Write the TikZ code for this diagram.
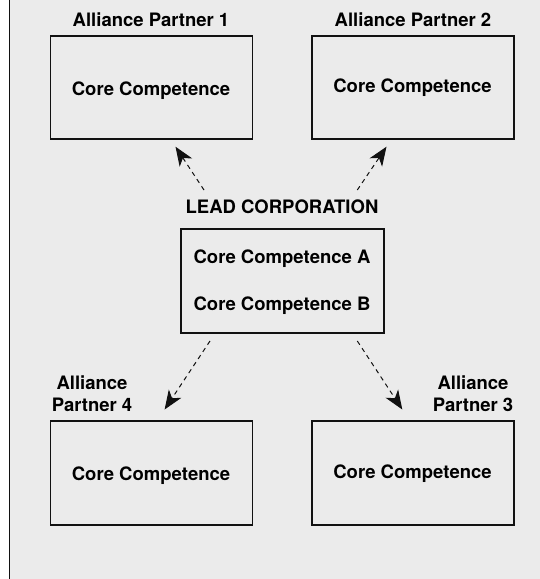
\documentclass[tikz,border=0pt]{standalone}
\usepackage{fontspec}
\setmainfont{TeX Gyre Heros}
\usetikzlibrary{arrows.meta}
\definecolor{bg}{HTML}{EBEBEB}
\definecolor{ink}{HTML}{111111}
\begin{document}
\begin{tikzpicture}[x=1pt,y=-1pt,
  box/.style={draw=ink, line width=1.4pt, minimum width=202pt, minimum height=103pt, inner sep=0pt},
  txt/.style={font=\fontsize{18.5}{22.4}\selectfont\bfseries, text=black, inner sep=0pt, anchor=base},
  conn/.style={draw=ink, line width=1pt, dash pattern=on 4.5pt off 4pt, -{Stealth[length=19pt,width=15pt,inset=5.5pt]}}]
\useasboundingbox (0,0) rectangle (540,579);
\fill[white] (0,0) rectangle (540,579);
\fill[bg] (10,0) rectangle (540,579);
\draw[ink, line width=1.3pt] (9.7,0) -- (9.7,579);
% boxes
\node[box] (b1) at (151.5,87.5) {};
\node[box] (b2) at (413,87.5) {};
\node[box, minimum height=104pt, minimum width=203pt] (lead) at (282.5,281) {};
\node[box, minimum height=104pt] (b4) at (151.5,473) {};
\node[box, minimum height=104pt] (b3) at (413,473) {};
% texts
\node[txt] (ap1) at (151,26) {Alliance Partner 1};
\node[txt] (ap2) at (413,26) {Alliance Partner 2};
\node[txt] (c1) at (151,95) {Core Competence};
\node[txt] (c2) at (412.5,92.3) {Core Competence};
\node[txt] (leadt) at (282,213.3) {LEAD CORPORATION};
\node[txt] (ca) at (282,263.3) {Core Competence A};
\node[txt] (cb) at (282,310) {Core Competence B};
\node[txt] (ap4a) at (92,389.3) {Alliance};
\node[txt] (ap4b) at (92,411.7) {Partner 4};
\node[txt] (ap3a) at (473,389.3) {Alliance};
\node[txt] (ap3b) at (473,411.7) {Partner 3};
\node[txt] (c4) at (151,480) {Core Competence};
\node[txt] (c3) at (412.5,478.3) {Core Competence};
% connectors
\coordinate (t1) at (204,190);   \coordinate (h1) at (175.5,146.7);
\coordinate (t2) at (357.3,190); \coordinate (h2) at (386.5,146.7);
\coordinate (t4) at (210,341);   \coordinate (h4) at (164.6,409.5);
\coordinate (t3) at (357.3,341); \coordinate (h3) at (402.3,409.5);
\draw[conn] (t1) -- (h1);
\draw[conn] (t2) -- (h2);
\draw[conn] (t4) -- (h4);
\draw[conn] (t3) -- (h3);
\end{tikzpicture}
\end{document}
